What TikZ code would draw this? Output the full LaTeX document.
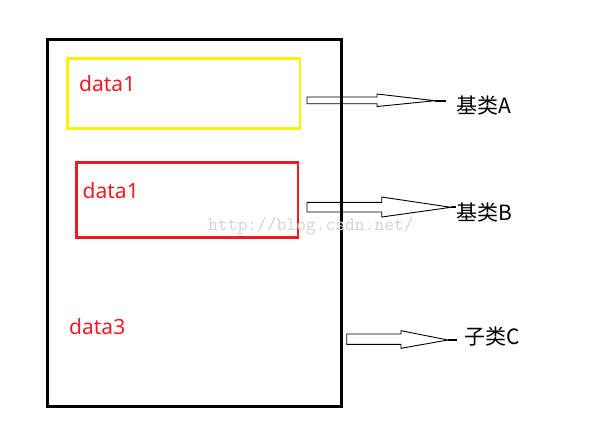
\documentclass[tikz,border=0pt]{standalone}
\usepackage{fontspec}
\setmainfont{Noto Sans}
\newfontfamily\cjkfont{Noto Sans CJK SC}
\definecolor{pyellow}{HTML}{FFF200}
\definecolor{pred}{HTML}{ED1C24}
\definecolor{wmgray}{HTML}{D4D4CC}
\begin{document}
\begin{tikzpicture}[x=1pt,y=-1pt,
  outerbox/.style={draw=black,line width=3pt},
  yellowbox/.style={draw=pyellow,line width=2.6pt},
  redbox/.style={draw=pred,line width=2.6pt},
  datatext/.style={text=pred,font=\fontsize{21}{24}\selectfont,inner sep=0pt,anchor=base west},
  labeltext/.style={font=\cjkfont\fontsize{21}{24}\selectfont,inner sep=0pt,anchor=west},
  blockarrow/.style={draw=black,fill=white,line width=0.9pt,line join=miter},
  tipline/.style={draw=black,line width=1.8pt},
  watermark/.style={text=wmgray,font=\ttfamily\fontsize{19}{21}\selectfont,inner sep=0pt,anchor=base west}]
\useasboundingbox (0,0) rectangle (607,424);
\fill[white] (0,0) rectangle (607,424);

% block arrows
\coordinate (tipA) at (435,100.7);
\coordinate (endA) at (446,100.7);
\draw[blockarrow] (307,97) -- (377,97) -- (377,94) -- (tipA) -- (377,106.5) -- (377,103.7) -- (307,103.7) -- cycle;
\draw[tipline] (tipA) -- (endA);

\coordinate (tipB) at (451,207.3);
\coordinate (endB) at (456,207.3);
\draw[blockarrow] (307,202.3) -- (381.7,202.3) -- (381.7,197) -- (tipB) -- (381.7,217) -- (381.7,212) -- (307,212) -- cycle;
\draw[tipline] (tipB) -- (endB);

\coordinate (tipC) at (448,340);
\coordinate (endC) at (456.5,340);
\draw[blockarrow] (346.7,334) -- (401,334) -- (401,330.7) -- (tipC) -- (401,348.3) -- (401,344.3) -- (346.7,344.3) -- cycle;
\draw[tipline] (tipC) -- (endC);

% boxes
\draw[outerbox] (47.5,39) rectangle (341.5,406);
\draw[yellowbox] (67.5,58.5) rectangle (300,128.5);
\draw[redbox] (76.5,162.5) rectangle (298,237.5);

% texts
\node[datatext] (d1) at (79,91) {data1};
\node[datatext] (d2) at (82.5,198) {data1};
\node[datatext] (d3) at (69,334) {data3};

\node[labeltext] (la) at (456,106) {基类A};
\node[labeltext] (lb) at (456,213) {基类B};
\node[labeltext] (lc) at (464.5,337) {子类C};

\node[watermark] (wm) at (208,230) {http://blog.csdn.net/};
\end{tikzpicture}
\end{document}
